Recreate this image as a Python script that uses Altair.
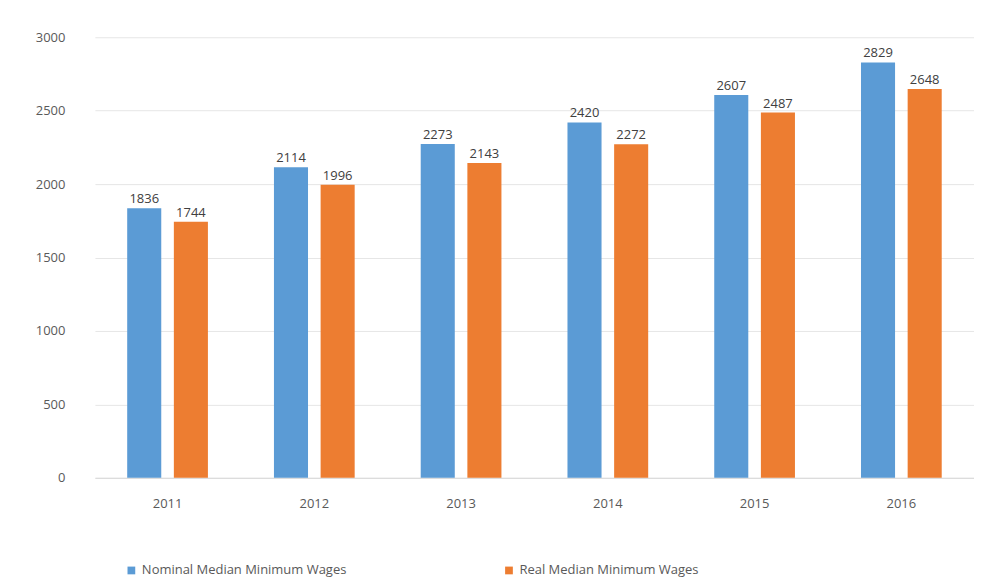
import altair as alt
import pandas as pd

years = ["2011", "2012", "2013", "2014", "2015", "2016"]
nominal = [1836, 2114, 2273, 2420, 2607, 2829]
real = [1744, 1996, 2143, 2272, 2487, 2648]
series = ["Nominal Median Minimum Wages", "Real Median Minimum Wages"]
colors = ["#5B9BD5", "#ED7D31"]

rows = []
for i, y in enumerate(years):
    rows.append({"year": y, "series": series[0], "value": nominal[i]})
    rows.append({"year": y, "series": series[1], "value": real[i]})
df = pd.DataFrame(rows)

x = alt.X("year:N", title=None, sort=years,
          scale=alt.Scale(paddingInner=0.45, paddingOuter=0.22),
          axis=alt.Axis(labelAngle=0, ticks=False, domainColor="#d9d9d9",
                        labelColor="#595959", labelFontSize=13, labelPadding=20,
                        labelFont="Open Sans"))
xo = alt.XOffset("series:N", sort=series, scale=alt.Scale(paddingInner=0.27))
y = alt.Y("value:Q", title=None,
          scale=alt.Scale(domain=[0, 3000]),
          axis=alt.Axis(values=[0, 500, 1000, 1500, 2000, 2500, 3000], ticks=False,
                        domain=False, gridColor="#e6e6e6", labelColor="#595959",
                        labelFontSize=13, labelPadding=30, labelFont="Open Sans",
                        format="d"))

color = alt.Color("series:N", sort=series,
                  scale=alt.Scale(domain=series, range=colors),
                  legend=alt.Legend(title=None, orient="none", direction="horizontal",
                                    legendX=30, legendY=527, symbolType="square",
                                    symbolSize=60, labelFontSize=13, labelColor="#595959",
                                    columnPadding=155, labelFont="Open Sans",
                                    labelLimit=300))

bars = alt.Chart(df).mark_bar().encode(x=x, xOffset=xo, y=y, color=color)
text = alt.Chart(df).mark_text(dy=-9, fontSize=13, color="#404040", font="Open Sans").encode(
    x=x, xOffset=xo, y=y, text="value:Q")

chart = (bars + text).properties(
    width=880, height=441,
    autosize=alt.AutoSizeParams(type="none"),
    padding={"left": 87, "top": 29, "right": 0, "bottom": 100},
).configure(background="white").configure_view(stroke=None)

chart.save("out.html", embed_options={"renderer": "svg", "actions": False})
